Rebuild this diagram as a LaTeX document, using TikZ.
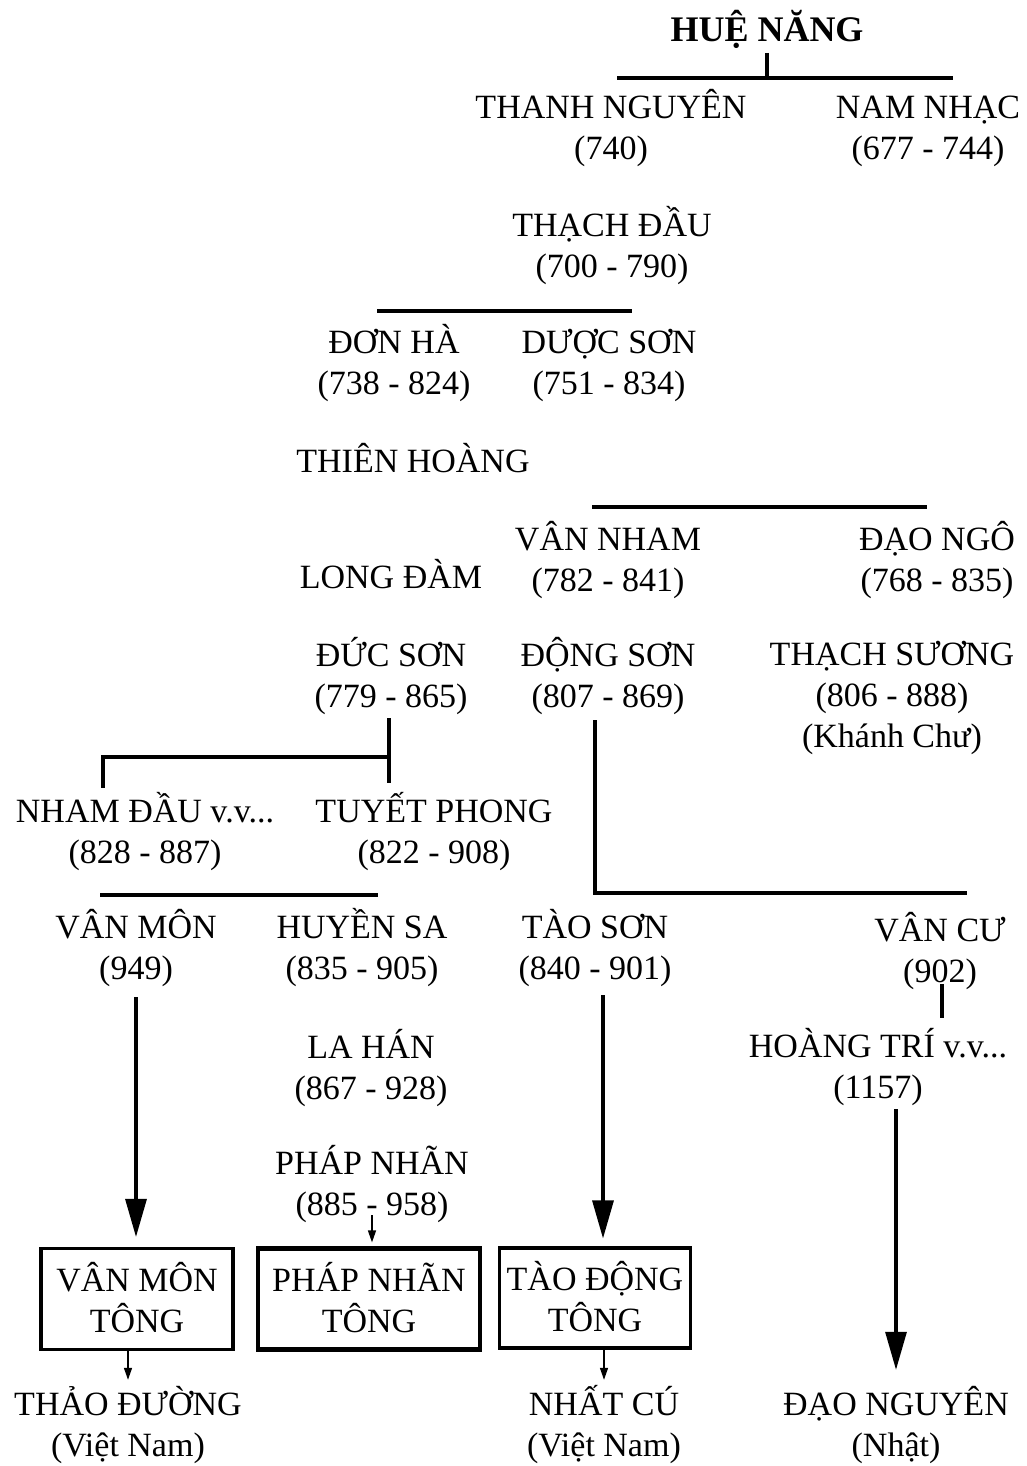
\documentclass[tikz,border=0pt]{standalone}
\usepackage{fontspec}
\setmainfont{Liberation Serif}
\usetikzlibrary{arrows.meta}
\newcommand{\hi}{\rule{0pt}{38pt}}

\begin{document}
\begin{tikzpicture}[x=1pt, y=-1pt, line width=3.1pt,
    person/.style = {align=center, inner sep=0pt, font=\fontsize{34}{41}\selectfont,
        execute at end node=\strut},
    school/.style = {person, draw, minimum width=192pt, minimum height=101pt},
    big/.style = {-{Triangle[length=38pt,width=21pt]}},
    small/.style = {line width=1.4pt, -{Triangle[length=12pt,width=8pt]}}]
    \useasboundingbox (0,0) rectangle (1027,1466);
    % the names, row by row
    \node[person, font=\fontsize{36}{43}\selectfont\bfseries] (hue) at (767,29) {\hi HUỆ NĂNG};
    \node[person] (thanhnguyen) at (611,126) {\hi THANH NGUYÊN\\(740)};
    \node[person] (namnhac) at (928,126) {\hi NAM NHẠC\\(677 - 744)};
    \node[person] (thachdau) at (612,244) {\hi THẠCH ĐẦU\\(700 - 790)};
    \node[person] (donha) at (394,361) {\hi ĐƠN HÀ\\(738 - 824)};
    \node[person] (duocson) at (609,361) {\hi DƯỢC SƠN\\(751 - 834)};
    \node[person] (thienhoang) at (413,460) {\hi THIÊN HOÀNG};
    \node[person] (vannham) at (608,558) {\hi VÂN NHAM\\(782 - 841)};
    \node[person] (daongo) at (937,558) {\hi ĐẠO NGÔ\\(768 - 835)};
    \node[person] (longdam) at (391,576) {\hi LONG ĐÀM};
    \node[person] (ducson) at (391,674) {\hi ĐỨC SƠN\\(779 - 865)};
    \node[person] (dongson) at (608,674) {\hi ĐỘNG SƠN\\(807 - 869)};
    \node[person] (thachsuong) at (892,694) {\hi THẠCH SƯƠNG\\(806 - 888)\\(Khánh Chư)};
    \node[person] (namdau) at (145,830) {\hi NHAM ĐẦU v.v...\\(828 - 887)};
    \node[person] (tuyetphong) at (434,830) {\hi TUYẾT PHONG\\(822 - 908)};
    \node[person] (vanmon) at (136,946) {\hi VÂN MÔN\\(949)};
    \node[person] (huyensa) at (362,946) {\hi HUYỀN SA\\(835 - 905)};
    \node[person] (taoson) at (595,946) {\hi TÀO SƠN\\(840 - 901)};
    \node[person] (vancu) at (940,949) {\hi VÂN CƯ\\(902)};
    \node[person] (hoangtri) at (878,1065) {\hi HOÀNG TRÍ v.v...\\(1157)};
    \node[person] (lahan) at (371,1066) {\hi LA HÁN\\(867 - 928)};
    \node[person] (phapnhan) at (372,1182) {\hi PHÁP NHÃN\\(885 - 958)};
    % the three schools
    \node[school] (vmtong) at (137,1299) {\hi VÂN MÔN\\TÔNG};
    \node[school, minimum width=222pt, line width=4.2pt] (pntong) at (369,1299) {\hi PHÁP NHÃN\\TÔNG};
    \node[school, minimum width=191pt, minimum height=100pt] (tdtong) at (595,1298) {\hi TÀO ĐỘNG\\TÔNG};
    \node[person] (thaoduong) at (128,1423) {\hi THẢO ĐƯỜNG\\(Việt Nam)};
    \node[person] (nhatcu) at (604,1423) {\hi NHẤT CÚ\\(Việt Nam)};
    \node[person] (daonguyen) at (896,1423) {\hi ĐẠO NGUYÊN\\(Nhật)};
    % bars
    \coordinate (hueL) at (617,78);
    \coordinate (hueR) at (953,78);
    \coordinate (tdL) at (377,311);
    \coordinate (tdR) at (632,311);
    \coordinate (vnL) at (592,507);
    \coordinate (vnR) at (927,507);
    \coordinate (dsL) at (103,757);
    \coordinate (dsR) at (389,757);
    \coordinate (dgC) at (595,893);
    \coordinate (dgR) at (967,893);
    \coordinate (vmL) at (100,895);
    \coordinate (vmR) at (378,895);
    \draw (hueL) -- (hueR);
    \draw[shorten <=-3pt] (hue.south) -- (hue.south |- hueL);
    \draw (tdL) -- (tdR);
    \draw (vnL) -- (vnR);
    \draw[shorten <=-5pt] (dsL |- namdau.north) -- (dsL) -- (dsR);
    \draw[shorten <=-3pt, shorten >=0pt] (dsR |- ducson.south) -- (dsR |- tuyetphong.north);
    \draw[shorten <=-1pt] (dgC |- dongson.south) -- (dgC) -- (dgR);
    \draw (vmL) -- (vmR);
    \draw[shorten <=-12pt, shorten >=0pt] ([xshift=2pt]vancu.south) -- ([xshift=2pt]vancu.south |- hoangtri.north);
    % arrows
    \draw[big, shorten <=4pt, shorten >=10pt] (vanmon.south) -- (vanmon.south |- vmtong.north);
    \draw[big, shorten <=2pt, shorten >=8pt] ([xshift=8pt]taoson.south) -- ([xshift=8pt]tdtong.north);
    \draw[big, shorten <=-3pt, shorten >=6pt] (hoangtri.south -| daonguyen.north) -- (daonguyen.north);
    \draw[small, shorten <=-14pt, shorten >=4pt] (phapnhan.south) -- (phapnhan.south |- pntong.north);
    \draw[small, shorten >=-4pt] (vmtong.south -| thaoduong.north) -- (thaoduong.north);
    \draw[small, shorten >=-4pt] (tdtong.south -| nhatcu.north) -- (nhatcu.north);
\end{tikzpicture}
\end{document}
